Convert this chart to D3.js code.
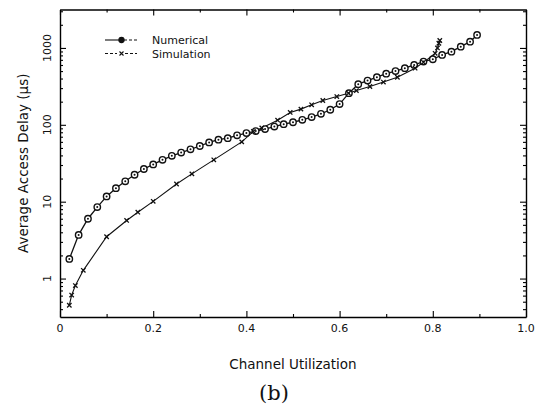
<!DOCTYPE html>
<html>
<head>
<meta charset="utf-8">
<script src="https://cdnjs.cloudflare.com/ajax/libs/d3/7.8.5/d3.min.js"></script>
<style>
	body { margin: 0; background: #fff; }
	svg { display: block; }
	text { font-family: "DejaVu Sans", sans-serif; fill: #111; }
</style>
</head>
<body>
<svg id="chart" width="536" height="407"></svg>
<script>
//numerical results (channel utilization, delay in us)
var numUtil = [0.02,0.04,0.06,0.08,0.10,0.12,0.14,0.16,0.18,0.20,0.22,0.24,0.26,0.28,0.30,0.32,0.34,0.36,0.38,0.40,0.42,0.44,0.46,0.48,0.50,0.52,0.54,0.56,0.58,0.60,0.62,0.64,0.66,0.68,0.70,0.72,0.74,0.76,0.78,0.80,0.82,0.84,0.86,0.88,0.895];
var numDelay = [1.8,3.7,6.0,8.5,11.7,15,18.4,22.4,26.6,30.5,35,39.5,43.5,48,53,59,64,67,73,78,83,88,95,102,108,116,126,139,157,186,258,338,376,416,462,500,545,601,664,713,811,895,1040,1208,1475];

//simulation results
var simUtil = [0.02,0.025,0.033,0.05,0.10,0.143,0.167,0.20,0.25,0.283,0.33,0.39,0.415,0.433,0.467,0.494,0.517,0.54,0.564,0.594,0.619,0.636,0.665,0.694,0.724,0.762,0.78,0.805,0.81,0.813,0.815];
var simDelay = [0.45,0.61,0.81,1.28,3.5,5.7,7.3,10.1,17,23,35,60,82,91,115,145,160,182,207,233,258,279,315,360,416,545,650,850,1000,1150,1250];

//ticks
var xTicks = [0,0.2,0.4,0.6,0.8,1.0];
var xTickLabels = ["0","0.2","0.4","0.6","0.8","1.0"];
var xMinorTicks = [0.1,0.3,0.5,0.7,0.9];
var yTicks = [1,10,100,1000];
var yTickLabels = ["1","10","100","1000"];

var svg = d3.select("#chart");
var plotLeft = 60, plotRight = 526, plotTop = 9.5, plotBottom = 317;

var x = d3.scaleLinear().domain([0,1]).range([plotLeft,plotRight]);
var y = d3.scaleLog().domain([Math.pow(10,-0.5),Math.pow(10,3.5)]).range([plotBottom,plotTop]);

//log minor ticks 2..9 in each decade
var yMinor = [];
[0.1,1,10,100,1000].forEach(function(d) {
	for (var k = 2; k <= 9; k++)
	{
		var v = d*k;
		if (v >= y.domain()[0] && v <= y.domain()[1])
			yMinor.push(v);
	}
});

var g = svg.append("g").attr("stroke","#111").attr("fill","none");

//axes: inward ticks on all four sides
function drawAxis(axis, pos, major, minor)
{
	g.append("g").attr("transform",pos).call(axis.tickValues(major).tickSize(6).tickSizeOuter(0).tickFormat(""))
		.call(function(s) { s.select(".domain").attr("stroke-width",1.4); });
	g.append("g").attr("transform",pos).call(axis.tickValues(minor).tickSize(3).tickFormat(""))
		.call(function(s) { s.select(".domain").remove(); });
}
drawAxis(d3.axisTop(x), "translate(0,"+plotBottom+")", xTicks, xMinorTicks);
drawAxis(d3.axisBottom(x), "translate(0,"+plotTop+")", xTicks, xMinorTicks);
drawAxis(d3.axisRight(y), "translate("+plotLeft+",0)", yTicks, yMinor);
drawAxis(d3.axisLeft(y), "translate("+plotRight+",0)", yTicks, yMinor);
g.selectAll(".tick line").attr("stroke-width",1.1);

//tick labels
svg.selectAll(".xlab").data(xTicks).enter().append("text")
	.attr("x",function(d) { return x(d); })
	.attr("y",332)
	.attr("text-anchor","middle")
	.attr("font-size",11)
	.text(function(d,i) { return xTickLabels[i]; });

svg.selectAll(".ylab").data(yTicks).enter().append("text")
	.attr("transform",function(d) { return "translate(51,"+y(d)+") rotate(-90)"; })
	.attr("text-anchor","middle")
	.attr("font-size",11)
	.text(function(d,i) { return yTickLabels[i]; });

//axis titles
svg.append("text")
	.attr("x",(plotLeft+plotRight)/2).attr("y",369)
	.attr("text-anchor","middle").attr("font-size",13.5)
	.text("Channel Utilization");

svg.append("text")
	.attr("transform","translate(28,"+((plotTop+plotBottom)/2)+") rotate(-90)")
	.attr("text-anchor","middle").attr("font-size",13.5)
	.text("Average Access Delay (\u03bcs)");

svg.append("text")
	.attr("x",274).attr("y",400)
	.attr("text-anchor","middle")
	.style("font-family","'DejaVu Serif', 'Liberation Serif', serif")
	.attr("font-size",21)
	.text("(b)");

//curves
var line = d3.line()
	.x(function(d) { return x(d[0]); })
	.y(function(d) { return y(d[1]); });

var numData = d3.zip(numUtil,numDelay);
var simData = d3.zip(simUtil,simDelay);

svg.append("path").datum(numData).attr("d",line)
	.attr("fill","none").attr("stroke","#111").attr("stroke-width",1.3);
svg.append("path").datum(simData).attr("d",line)
	.attr("fill","none").attr("stroke","#111").attr("stroke-width",1.1);

function circleMark(sel)
{
	sel.append("circle").attr("r",3.2).attr("fill","#fff").attr("stroke","#111").attr("stroke-width",1.4);
	sel.append("circle").attr("r",1).attr("fill","#111");
}
function crossMark(sel)
{
	sel.append("path").attr("d","M-2.2,-2.2L2.2,2.2M-2.2,2.2L2.2,-2.2")
		.attr("stroke","#111").attr("stroke-width",1.3).attr("fill","none");
}

svg.selectAll(".num").data(numData).enter().append("g")
	.attr("transform",function(d) { return "translate("+x(d[0])+","+y(d[1])+")"; })
	.call(circleMark);

svg.selectAll(".sim").data(simData).enter().append("g")
	.attr("transform",function(d) { return "translate("+x(d[0])+","+y(d[1])+")"; })
	.call(crossMark);

//legend
var leg = svg.append("g").attr("stroke","#111").attr("fill","none").attr("stroke-width",1.1);
leg.append("line").attr("x1",105).attr("x2",119).attr("y1",40).attr("y2",40);
leg.append("line").attr("x1",124).attr("x2",137).attr("y1",40).attr("y2",40).attr("stroke-dasharray","3,2");
leg.append("circle").attr("cx",121.5).attr("cy",40).attr("r",2.6).attr("fill","#111");
leg.append("line").attr("x1",105).attr("x2",117).attr("y1",53.5).attr("y2",53.5).attr("stroke-dasharray","3,2");
leg.append("line").attr("x1",125).attr("x2",137).attr("y1",53.5).attr("y2",53.5).attr("stroke-dasharray","3,2");
leg.append("path").attr("d","M119.5,51.5L123.5,55.5M119.5,55.5L123.5,51.5");

svg.append("text").attr("x",152).attr("y",44).attr("font-size",11).text("Numerical");
svg.append("text").attr("x",152).attr("y",57.5).attr("font-size",11).text("Simulation");
</script>
</body>
</html>
